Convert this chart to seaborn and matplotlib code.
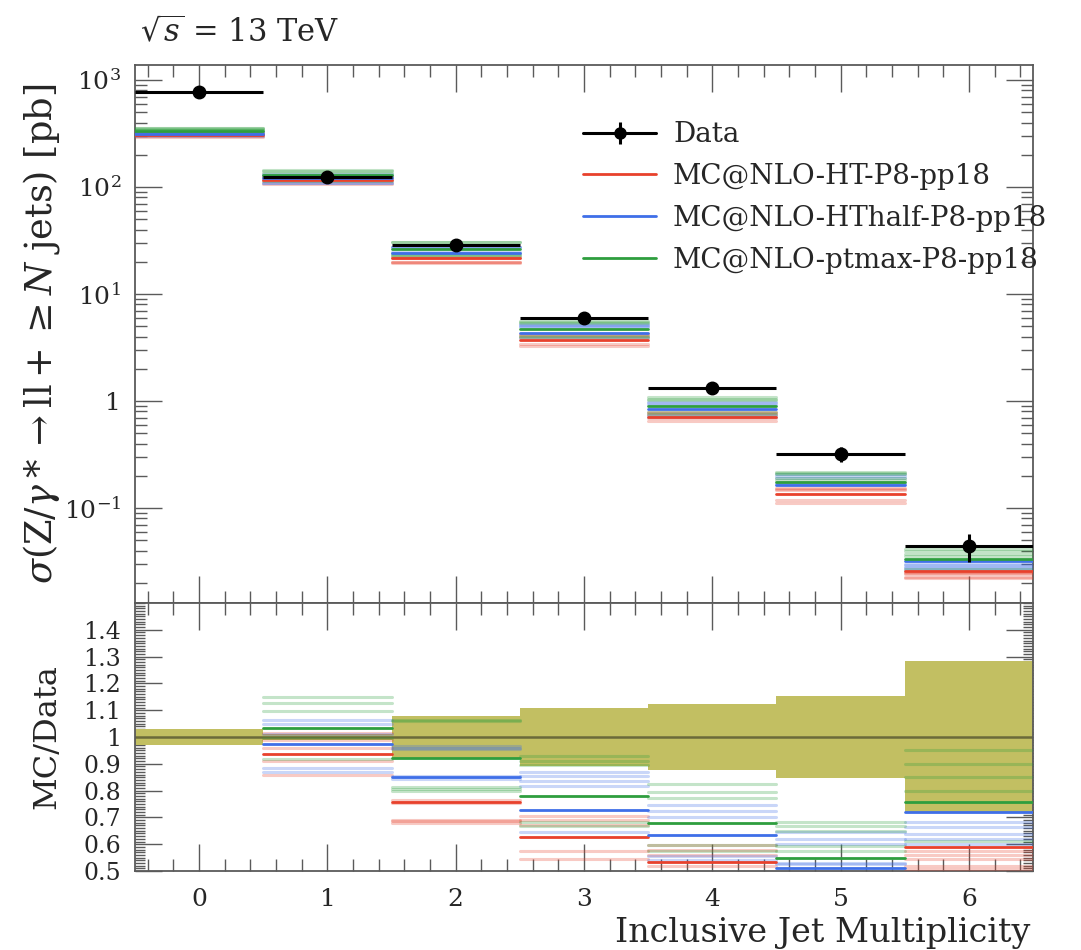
import numpy as np
import pandas as pd
import matplotlib
matplotlib.use("Agg")
import matplotlib.pyplot as plt
import seaborn as sns
from matplotlib.ticker import FixedLocator, FixedFormatter, MultipleLocator, LogLocator, NullFormatter

# ---------------------------------------------------------------- data
n_jets = [0, 1, 2, 3, 4, 5, 6]
tick_labels = ["0", "1", "2", "3", "4", "5", "6"]

# measured inclusive cross sections [pb] and relative uncertainty
data_xs = [776.0, 124.0, 28.7, 5.97, 1.32, 0.32, 0.044]
data_rel_err = [0.030, 0.012, 0.077, 0.107, 0.122, 0.153, 0.285]

gen_labels = ["MC@NLO-HT-P8-pp18", "MC@NLO-HThalf-P8-pp18", "MC@NLO-ptmax-P8-pp18"]

# nominal predictions, expressed as MC / Data
ratio_ht = [0.395, 0.9375, 0.759, 0.6275, 0.534, 0.42, 0.591]
ratio_hthalf = [0.400, 0.974, 0.850, 0.729, 0.635, 0.5125, 0.721]
ratio_ptmax = [0.430, 1.035, 0.921, 0.781, 0.679, 0.548, 0.756]

# scale variations, MC / Data
var_ht = [
    [0.420, 1.016, 0.765, 0.706, 0.596, 0.48, 0.575],
    [0.410, 0.990, 0.755, 0.690, 0.580, 0.47, 0.560],
    [0.400, 0.960, 0.690, 0.670, 0.560, 0.46, 0.545],
    [0.385, 0.909, 0.6875, 0.575, 0.520, 0.37, 0.520],
    [0.380, 0.859, 0.680, 0.546, 0.490, 0.35, 0.506],
]
var_hthalf = [
    [0.420, 1.0625, 0.966, 0.869, 0.746, 0.646, 0.684],
    [0.415, 1.050, 0.960, 0.856, 0.725, 0.619, 0.6625],
    [0.410, 1.010, 0.955, 0.8375, 0.700, 0.600, 0.6375],
    [0.395, 0.884, 0.855, 0.819, 0.556, 0.530, 0.620],
    [0.390, 0.870, 0.845, 0.646, 0.540, 0.525, 0.600],
]
var_ptmax = [
    [0.460, 1.150, 1.062, 0.930, 0.825, 0.684, 0.950],
    [0.455, 1.128, 1.058, 0.910, 0.796, 0.669, 0.900],
    [0.450, 1.098, 0.815, 0.894, 0.771, 0.650, 0.850],
    [0.440, 0.996, 0.805, 0.684, 0.596, 0.594, 0.800],
    [0.435, 0.917, 0.797, 0.669, 0.575, 0.575, 0.6125],
]

gen_colors = ["#E8412C", "#3F6FE8", "#2E9E3E"]
band_color = "#C2BF62"
unity_color = "#6B6A3A"
frame_color = "#5A5A5A"

# ---------------------------------------------------------------- style
sns.set_theme(style="ticks")
plt.rcParams["font.family"] = ["DejaVu Serif"]
plt.rcParams["mathtext.fontset"] = "dejavuserif"
plt.rcParams["axes.edgecolor"] = frame_color
plt.rcParams["axes.linewidth"] = 1.3


def segment_frame(rows_by_gen):
    """Long table of horizontal bin segments: one pair of points per bin."""
    rows = []
    for gen, sets in rows_by_gen.items():
        for k, values in enumerate(sets):
            for i, v in zip(n_jets, values):
                unit = f"{k}-{i}"
                rows.append({"gen": gen, "unit": unit, "x": i - 0.5, "ratio": v, "bin": i})
                rows.append({"gen": gen, "unit": unit, "x": i + 0.5, "ratio": v, "bin": i})
    df = pd.DataFrame(rows)
    df["xs"] = df["ratio"] * np.take(data_xs, df["bin"])
    return df


palette = dict(zip(gen_labels, gen_colors))
nominal = segment_frame({
    gen_labels[0]: [ratio_ht],
    gen_labels[1]: [ratio_hthalf],
    gen_labels[2]: [ratio_ptmax],
})
variations = segment_frame({
    gen_labels[0]: var_ht,
    gen_labels[1]: var_hthalf,
    gen_labels[2]: var_ptmax,
})

W, H = 1081, 950
fig = plt.figure(figsize=(W / 100, H / 100), dpi=100)
left, right = 135 / W, 1033 / W
ax = fig.add_axes([left, (H - 603) / H, right - left, (603 - 65) / H])
rax = fig.add_axes([left, (H - 871) / H, right - left, (871 - 603) / H], sharex=ax)


def draw_mc(axis, ycol):
    sns.lineplot(data=variations, x="x", y=ycol, hue="gen", units="unit",
                 estimator=None, sort=False, palette=palette, hue_order=gen_labels,
                 lw=2.2, alpha=0.28, legend=False, ax=axis, zorder=3)
    sns.lineplot(data=nominal, x="x", y=ycol, hue="gen", units="unit",
                 estimator=None, sort=False, palette=palette, hue_order=gen_labels,
                 lw=2.0, legend=False, ax=axis, zorder=4)


# ---------------------------------------------------------------- main panel
ax.set_yscale("log")
draw_mc(ax, "xs")
data_err = np.array(data_xs) * np.array(data_rel_err)
ax.errorbar(n_jets, data_xs, xerr=0.5, yerr=data_err, fmt="o", color="black",
            ms=9, lw=2.2, capsize=0, zorder=6)

ax.set_ylim(0.01294, 1380)
ax.set_xlim(-0.5, 6.5)
ax.yaxis.set_major_locator(FixedLocator([0.1, 1, 10, 100, 1000]))
ax.yaxis.set_major_formatter(FixedFormatter([r"$10^{-1}$", "1", r"$10^{1}$", r"$10^{2}$", r"$10^{3}$"]))
ax.yaxis.set_minor_locator(LogLocator(base=10, subs=np.arange(2, 10), numticks=20))
ax.yaxis.set_minor_formatter(NullFormatter())
ax.set_ylabel(r"$\sigma(\mathrm{Z}/\gamma* \to \mathrm{ll}+ \geq N$ jets$)$ [pb]", fontsize=26.5)
ax.yaxis.set_label_coords(-0.081, 0.5)
ax.set_xlabel("")
ax.tick_params(axis="x", labelbottom=False)

data_handle = (plt.Line2D([], [], color="black", lw=2.2, marker="o", ms=8),
               plt.Line2D([], [], color="black", lw=0, marker="|", ms=16, mew=2.2))
handles = [data_handle] + [plt.Line2D([], [], color=c, lw=2.0) for c in gen_colors]
ax.legend(handles, ["Data"] + gen_labels, loc="upper left", bbox_to_anchor=(0.499, 0.895),
          frameon=False, fontsize=20, handlelength=2.63, handletextpad=0.61,
          labelspacing=0.53, borderpad=0, borderaxespad=0)

# ---------------------------------------------------------------- ratio panel
rax.bar(n_jets, height=2 * np.array(data_rel_err), bottom=1 - np.array(data_rel_err),
        width=1.0, color=band_color, lw=0, zorder=1)
rax.axhline(1.0, color=unity_color, lw=1.8, zorder=2)
draw_mc(rax, "ratio")
rax.set_ylim(0.5, 1.5)
rax.yaxis.set_major_locator(FixedLocator(np.round(np.arange(0.5, 1.45, 0.1), 1)))
rax.yaxis.set_major_formatter(FixedFormatter(["0.5", "0.6", "0.7", "0.8", "0.9", "1",
                                              "1.1", "1.2", "1.3", "1.4"]))
rax.yaxis.set_minor_locator(MultipleLocator(0.01))
rax.set_ylabel("MC/Data", fontsize=23)
rax.yaxis.set_label_coords(-0.081, 0.5)
rax.xaxis.set_major_locator(FixedLocator(n_jets))
rax.xaxis.set_major_formatter(FixedFormatter(tick_labels))
rax.xaxis.set_minor_locator(MultipleLocator(0.2))
rax.set_xlabel("")

for a in (ax, rax):
    a.tick_params(which="both", direction="in", top=True, right=True,
                  color=frame_color, width=1.0, labelsize=18)
    a.tick_params(which="major", length=19.5, pad=10)
    a.tick_params(which="minor", length=8.5)
    a.grid(False)
rax.tick_params(axis="y", which="minor", length=7)
rax.tick_params(axis="y", labelsize=17)
rax.tick_params(axis="x", pad=12)

fig.text(0.953, 8 / H, "Inclusive Jet Multiplicity", ha="right", va="baseline", fontsize=24)
fig.text(140 / W, (H - 42) / H, r"$\sqrt{s}$ = 13 TeV", ha="left", va="baseline", fontsize=22)

fig.savefig("out.png", dpi=100)
